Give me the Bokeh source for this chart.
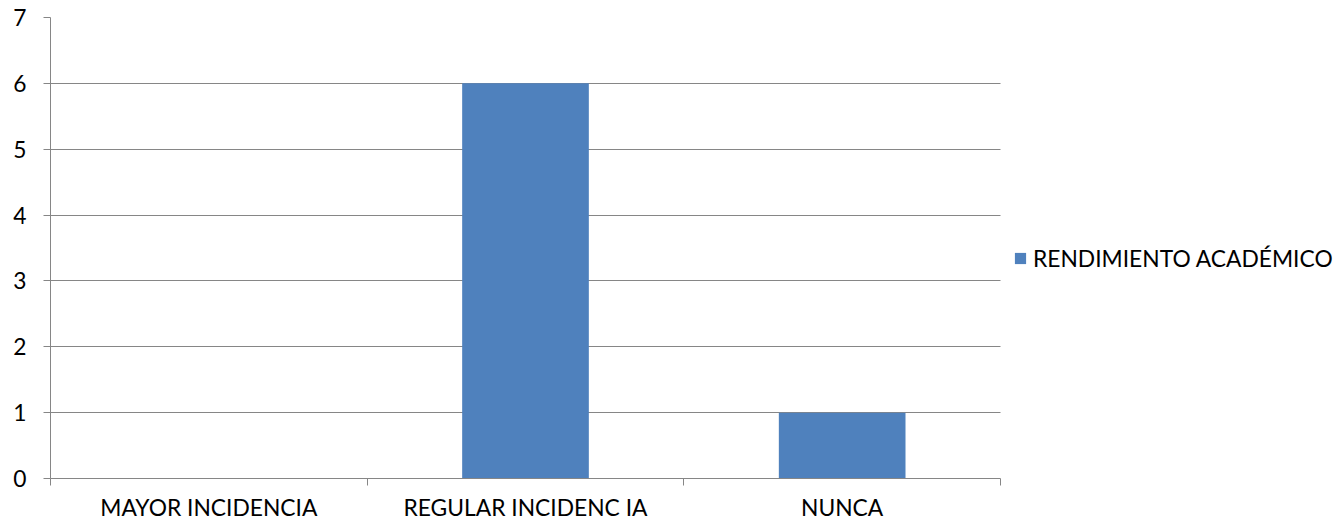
from bokeh.plotting import figure
from bokeh.models import FixedTicker, Legend, LegendItem, Range1d
from bokeh.embed import file_html
from bokeh.resources import INLINE

categories = ["MAYOR INCIDENCIA", "REGULAR INCIDENC IA", "NUNCA"]
values = [0, 6, 1]
series_name = "RENDIMIENTO ACADÉMICO"
y_ticks = [0, 1, 2, 3, 4, 5, 6, 7]

FONT = "Lato"
GRAY = "#868686"
BLUE = "#4F81BD"
FS = "22.8px"

W, H = 1339, 523
LEFT, TOP = 50, 17
PLOT_W = 950  # pixels spanned by the category axis
n = len(categories)
x_end = n * (W - LEFT) / PLOT_W

p = figure(width=W, height=H, output_backend="svg", toolbar_location=None,
           x_range=Range1d(0, x_end), y_range=Range1d(0, 7),
           min_border_left=LEFT, min_border_right=0, min_border_top=TOP, min_border_bottom=0)

xs = [i + 0.5 for i in range(n)]
r = p.vbar(x=xs, top=values, width=0.4, bottom=0, color=BLUE, line_color=None)

p.outline_line_color = None
p.xgrid.visible = False
p.ygrid.grid_line_color = GRAY
p.ygrid.grid_line_width = 1
p.ygrid.ticker = FixedTicker(ticks=y_ticks)
p.ygrid.cross_bounds = (0, n)

p.yaxis.ticker = FixedTicker(ticks=y_ticks, minor_ticks=[])
p.yaxis.axis_line_color = GRAY
p.yaxis.major_tick_line_color = GRAY
p.yaxis.major_tick_in = 0
p.yaxis.major_tick_out = 7
p.yaxis.minor_tick_line_color = None
p.yaxis.major_label_text_font = FONT
p.yaxis.major_label_text_font_size = FS
p.yaxis.major_label_text_color = "#000000"
p.yaxis.major_label_standoff = 17

p.xaxis.bounds = (0, n)
p.xaxis.ticker = FixedTicker(ticks=xs, minor_ticks=list(range(n + 1)))
p.xaxis.major_label_overrides = {x: c for x, c in zip(xs, categories)}
p.xaxis.axis_line_color = GRAY
p.xaxis.major_tick_line_color = None
p.xaxis.major_tick_out = 0
p.xaxis.major_tick_in = 0
p.xaxis.minor_tick_line_color = GRAY
p.xaxis.minor_tick_in = 0
p.xaxis.minor_tick_out = 7
p.xaxis.major_label_text_font = FONT
p.xaxis.major_label_text_font_size = FS
p.xaxis.major_label_text_color = "#000000"
p.xaxis.major_label_standoff = 7

legend = Legend(items=[LegendItem(label=series_name, renderers=[r])],
                location=(963, 206), margin=0, padding=0, glyph_width=14, glyph_height=14,
                label_height=14, label_standoff=6, border_line_color=None, background_fill_alpha=0,
                label_text_font=FONT, label_text_font_size=FS, label_text_color="#000000")
p.add_layout(legend, "center")

open("out.html", "w").write(file_html(p, INLINE))
